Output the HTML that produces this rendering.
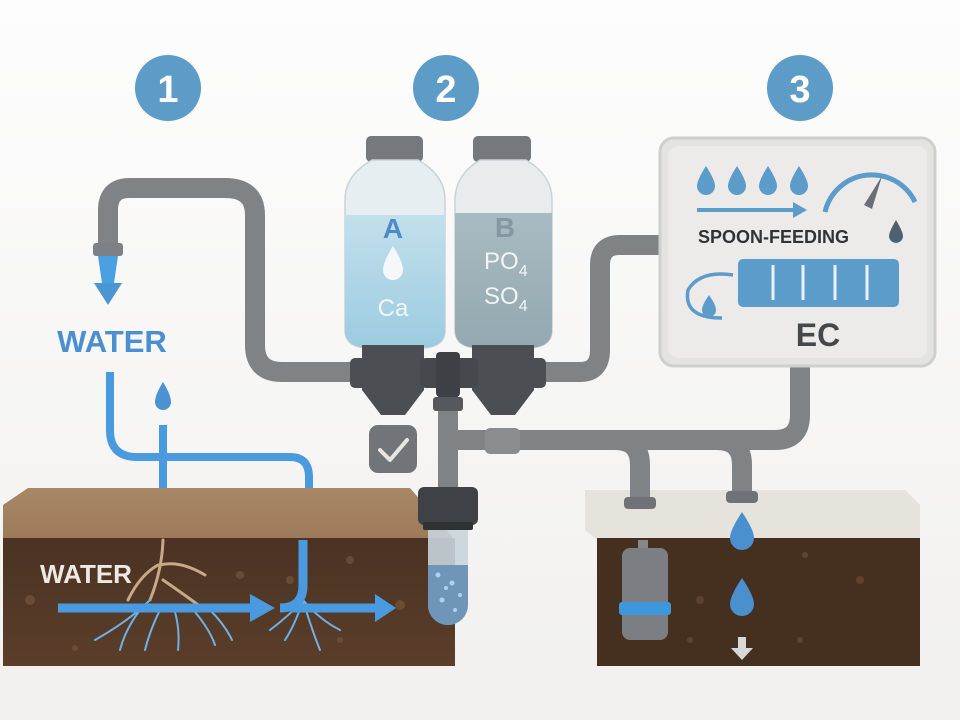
<!DOCTYPE html>
<html><head><meta charset="utf-8"><style>
html,body{margin:0;padding:0;background:#fbfbfb;}
svg{display:block;font-family:"Liberation Sans",sans-serif;}
</style></head><body>
<svg width="960" height="720" viewBox="0 0 960 720" xmlns="http://www.w3.org/2000/svg">
<defs>
<linearGradient id="bg" x1="0" y1="0" x2="0" y2="1"><stop offset="0" stop-color="#fdfdfd"/><stop offset="1" stop-color="#f1f0ee"/></linearGradient>
<linearGradient id="liqA" x1="0" y1="0" x2="0" y2="1"><stop offset="0" stop-color="#c2e0ec"/><stop offset="1" stop-color="#9ccbe0"/></linearGradient>
<linearGradient id="liqB" x1="0" y1="0" x2="0" y2="1"><stop offset="0" stop-color="#a9bbc2"/><stop offset="1" stop-color="#93a8b0"/></linearGradient>
<linearGradient id="soilTop" x1="0" y1="0" x2="0" y2="1"><stop offset="0" stop-color="#a88766"/><stop offset="1" stop-color="#9b7a5a"/></linearGradient>
<linearGradient id="soil" x1="0" y1="0" x2="0" y2="1"><stop offset="0" stop-color="#4b3222"/><stop offset="1" stop-color="#5a3e2a"/></linearGradient>
</defs>
<rect width="960" height="720" fill="url(#bg)"/>

<circle cx="168" cy="88" r="33" fill="#5e9cc8"/><text x="168" y="102" font-size="38" font-weight="bold" fill="#fff" text-anchor="middle">1</text>
<circle cx="446" cy="88" r="33" fill="#5e9cc8"/><text x="446" y="102" font-size="38" font-weight="bold" fill="#fff" text-anchor="middle">2</text>
<circle cx="800" cy="88" r="33" fill="#5e9cc8"/><text x="800" y="102" font-size="38" font-weight="bold" fill="#fff" text-anchor="middle">3</text>

<!-- right block (drawn first so pipes sit on top) -->
<polygon points="585,490 905,490 920,505 920,540 597,540 585,530" fill="#e6e3dc"/>
<rect x="597" y="538" width="323" height="128" fill="#45301f"/>
<g fill="#6a4c35" opacity="0.7"><circle cx="700" cy="600" r="4"/><circle cx="805" cy="555" r="3"/><circle cx="860" cy="580" r="4"/><circle cx="690" cy="640" r="3"/><circle cx="800" cy="640" r="3"/></g>

<g fill="none" stroke="#808386" stroke-width="20" stroke-linejoin="round">
<path d="M108 245 V210 Q108 188 130 188 H225 Q255 188 255 215 V345 Q255 372 282 372 H365"/>
<path d="M540 372 H580 Q600 372 600 350 V265 Q600 245 620 245 H665"/>
<path d="M448 390 V495"/>
<path d="M448 440 H775 Q800 440 800 415 V360"/>
<path d="M615 440 Q640 440 640 465 V500"/>
<path d="M717 440 Q742 440 742 465 V495"/>
</g>
<rect x="93" y="243" width="30" height="13" rx="3" fill="#7d8084"/>
<rect x="485" y="428" width="35" height="26" rx="5" fill="#8a8d90"/>
<rect x="624" y="497" width="32" height="12" rx="4" fill="#6f7276"/>
<rect x="726" y="491" width="32" height="12" rx="4" fill="#6f7276"/>

<path d="M98 256 H118 L114 283 H102 Z" fill="#4aa0e0"/>
<path d="M94 283 H122 L108 305 Z" fill="#4a95d4"/>
<text x="112" y="352" font-size="31" font-weight="bold" fill="#4a8fd0" text-anchor="middle">WATER</text>

<g fill="none" stroke="#4a9ae0" stroke-width="8" stroke-linejoin="round">
<path d="M110 372 V430 Q110 457 137 457 H290 Q309 457 309 477 V510"/>
<path d="M163 425 V510"/>
</g>
<path d="M163 382 Q155 395 155 402 A8 8 0 0 0 171 402 Q171 395 163 382 Z" fill="#4a92d2"/>

<polygon points="3,505 28,488 410,488 455,540 3,540" fill="url(#soilTop)"/>
<rect x="3" y="538" width="452" height="128" fill="url(#soil)"/>
<g fill="#7a5a40" opacity="0.6"><circle cx="30" cy="600" r="5"/><circle cx="240" cy="575" r="4"/><circle cx="350" cy="560" r="4"/><circle cx="400" cy="605" r="5"/><circle cx="75" cy="648" r="3"/><circle cx="290" cy="580" r="4"/><circle cx="340" cy="640" r="3"/></g>
<g fill="none" stroke="#c7a98a" stroke-width="3" stroke-linecap="round">
<path d="M163 540 Q162 570 150 600 M160 565 Q180 560 205 575 M158 565 Q140 575 128 600 M163 580 Q185 595 205 610"/>
</g>
<g fill="none" stroke="#6fb0e6" stroke-width="2" stroke-linecap="round">
<path d="M150 600 Q130 620 95 640 M140 610 Q125 630 120 650 M160 610 Q150 630 145 650 M175 612 Q180 630 178 650 M195 612 Q210 630 215 645 M210 610 Q225 625 232 640"/>
<path d="M303 600 Q295 625 285 640 M303 600 Q310 625 320 650 M303 600 Q320 620 340 630 M303 600 Q290 615 270 630"/>
</g>
<text x="40" y="583" font-size="26" font-weight="bold" fill="#efe9e4">WATER</text>
<g fill="none" stroke="#4a9ae0" stroke-width="9">
<path d="M58 608 H255"/><path d="M290 608 H380"/><path d="M303 540 V585 Q303 608 280 608"/>
</g>
<path d="M250 594 L275 608 L250 622 Z" fill="#4a9ae0"/>
<path d="M375 594 L396 608 L375 622 Z" fill="#4a9ae0"/>

<rect x="366" y="136" width="57" height="26" rx="5" fill="#75797d"/>
<path d="M372 160 H418 Q445 175 445 200 V330 Q445 348 420 348 H370 Q345 348 345 330 V200 Q345 175 372 160 Z" fill="#e6eef2" stroke="#c8d3d8" stroke-width="1.5"/>
<path d="M345 215 H445 V330 Q445 348 420 348 H370 Q345 348 345 330 Z" fill="url(#liqA)"/>
<text x="393" y="238" font-size="28" font-weight="bold" fill="#4c8bc3" text-anchor="middle">A</text>
<path d="M393 246 Q383 262 383 270 A10 10 0 0 0 403 270 Q403 262 393 246 Z" fill="#f4f8fa"/>
<text x="393" y="316" font-size="24" fill="#f2f6f8" text-anchor="middle">Ca</text>
<rect x="473" y="136" width="58" height="26" rx="5" fill="#75797d"/>
<path d="M480 160 H526 Q552 175 552 200 V330 Q552 348 527 348 H480 Q455 348 455 330 V200 Q455 175 480 160 Z" fill="#e8eced" stroke="#c8d3d8" stroke-width="1.5"/>
<path d="M455 213 H552 V330 Q552 348 527 348 H480 Q455 348 455 330 Z" fill="url(#liqB)"/>
<text x="505" y="237" font-size="28" font-weight="bold" fill="#8597a0" text-anchor="middle">B</text>
<text x="484" y="269" font-size="24" fill="#f2f5f6">PO<tspan font-size="16" dy="7">4</tspan></text>
<text x="484" y="304" font-size="24" fill="#f2f5f6">SO<tspan font-size="16" dy="7">4</tspan></text>

<g fill="#4b4e52">
<path d="M362 345 H424 V390 L405 415 H381 L362 390 Z"/>
<path d="M472 345 H534 V390 L515 415 H491 L472 390 Z"/>
<rect x="350" y="358" width="16" height="30" rx="5"/><rect x="530" y="358" width="16" height="30" rx="5"/>
<rect x="420" y="358" width="58" height="30" rx="6" fill="#45484c"/>
<rect x="436" y="352" width="24" height="45" rx="4" fill="#3d4044"/>
<rect x="433" y="397" width="30" height="14" rx="3" fill="#55585c"/>
</g>

<rect x="369" y="425" width="48" height="48" rx="9" fill="#717579"/>
<path d="M380 450 L390 460 L407 440" fill="none" stroke="#e9e6e0" stroke-width="4" stroke-linecap="round" stroke-linejoin="round"/>

<rect x="418" y="487" width="60" height="38" rx="6" fill="#3e4145"/>
<rect x="423" y="522" width="50" height="8" rx="2" fill="#2f3235"/>
<path d="M428 530 H468 V605 A20 20 0 0 1 428 605 Z" fill="#c8d4dc" opacity="0.9"/>
<path d="M428 565 H468 V605 A20 20 0 0 1 428 605 Z" fill="#6f96b8"/>
<g fill="#a8d4f4"><circle cx="438" cy="575" r="2.5"/><circle cx="452" cy="583" r="2.5"/><circle cx="460" cy="595" r="2"/><circle cx="442" cy="600" r="2.5"/><circle cx="455" cy="610" r="2"/><circle cx="446" cy="588" r="2"/></g>

<rect x="660" y="138" width="275" height="228" rx="14" fill="#e3e3e1" stroke="#cfcfcd" stroke-width="3"/>
<rect x="668" y="146" width="259" height="212" rx="10" fill="#ecebe9"/>
<g fill="#5b9ccb">
<path d="M706 166 Q697 180 697 186 A9 9 0 0 0 715 186 Q715 180 706 166 Z"/>
<path d="M737 166 Q728 180 728 186 A9 9 0 0 0 746 186 Q746 180 737 166 Z"/>
<path d="M768 166 Q759 180 759 186 A9 9 0 0 0 777 186 Q777 180 768 166 Z"/>
<path d="M799 166 Q790 180 790 186 A9 9 0 0 0 808 186 Q808 180 799 166 Z"/>
</g>
<path d="M697 210 H795" stroke="#5b9ccb" stroke-width="4"/>
<path d="M793 202 L807 210 L793 218 Z" fill="#5b9ccb"/>
<path d="M825 212 A48 48 0 0 1 915 202" fill="none" stroke="#5b9ccb" stroke-width="5"/>
<path d="M864 205 L882 176 L872 209 Z" fill="#6b6f73"/>
<text x="698" y="243" font-size="18" font-weight="bold" fill="#2f3337">SPOON-FEEDING</text>
<path d="M896 220 Q889 232 889 236 A7 7 0 0 0 903 236 Q903 232 896 220 Z" fill="#4d6170"/>
<rect x="738" y="259" width="161" height="48" rx="5" fill="#5b9ccb"/>
<g stroke="#eaf2f8" stroke-width="3"><path d="M773 265 V300"/><path d="M803 265 V300"/><path d="M835 265 V300"/><path d="M867 265 V300"/></g>
<path d="M733 275 Q700 270 688 290 Q683 318 722 318" fill="none" stroke="#5b9ccb" stroke-width="3.5"/>
<path d="M709 295 Q702 305 702 310 A7 7 0 0 0 716 310 Q716 305 709 295 Z" fill="#5b9ccb"/>
<text x="818" y="346" font-size="32" font-weight="bold" fill="#45484b" text-anchor="middle">EC</text>

<path d="M742 512 Q730 530 730 538 A12 12 0 0 0 754 538 Q754 530 742 512 Z" fill="#4a90cf"/>
<path d="M742 578 Q730 596 730 604 A12 12 0 0 0 754 604 Q754 596 742 578 Z" fill="#4a90cf"/>
<path d="M738 637 H746 V648 H753 L742 660 L731 648 H738 Z" fill="#d8d8d6"/>
<rect x="638" y="540" width="10" height="10" fill="#888"/>
<rect x="622" y="548" width="46" height="92" rx="8" fill="#7b7f83"/>
<rect x="619" y="602" width="52" height="13" rx="3" fill="#3e97dc"/>
</svg>
</body></html>
